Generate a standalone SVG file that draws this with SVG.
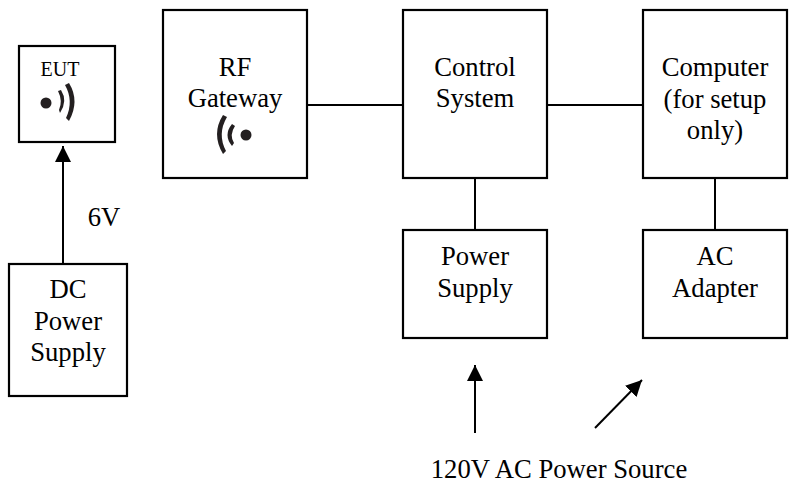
<svg xmlns="http://www.w3.org/2000/svg" width="801" height="484" viewBox="0 0 801 484">
<defs>
<marker id="ah" markerUnits="userSpaceOnUse" markerWidth="16" markerHeight="16" refX="16" refY="8" orient="auto"><path d="M0,0 L16,8 L0,16 Z" fill="#000"/></marker>
</defs>
<style>
text{font-family:"Liberation Serif","Times New Roman",serif;font-size:26.67px;fill:#000;text-anchor:middle}
.box{fill:#fff;stroke:#000;stroke-width:2.2}
.line{stroke:#000;stroke-width:2;fill:none}
.wave{fill:#231f20;stroke:none}
</style>
<rect width="801" height="484" fill="#fff"/>
<g id="connectors">
<path class="line" d="M63,264V146" marker-end="url(#ah)"/>
<path class="line" d="M307,105H403"/>
<path class="line" d="M547,105H643"/>
<path class="line" d="M475,179V230"/>
<path class="line" d="M715,179V230"/>
<path class="line" d="M475,433V365" marker-end="url(#ah)"/>
<path class="line" d="M595,428L642,380" marker-end="url(#ah)"/>
</g>
<g id="eut"><rect class="box" x="19" y="46" width="96" height="96"/>
<text x="60" y="76" style="font-size:20px">EUT</text>
<circle cx="46" cy="103" r="5.5" fill="#231f20"/>
<path class="wave" d="M61,90Q68,101 60,113L59,110Q63,101 58,91Z"/>
<path class="wave" d="M69,83Q80,101 69,121L66,118Q74,101 65,85Z"/></g>
<g id="rf-gateway"><rect class="box" x="163" y="10" width="144" height="168"/>
<text x="235" y="76">RF</text><text x="235" y="107">Gateway</text>
<circle cx="246" cy="135" r="5.5" fill="#231f20"/>
<path class="wave" d="M232,124Q223,135 232,146L234,143Q229,135 235,126Z"/>
<path class="wave" d="M223,115Q211,134 223,154L226,151Q217,134 227,117Z"/></g>
<g id="control-system"><rect class="box" x="403" y="10" width="144" height="168"/>
<text x="475" y="76">Control</text><text x="475" y="107">System</text></g>
<g id="computer"><rect class="box" x="643" y="10" width="144" height="168"/>
<text x="715" y="76">Computer</text><text x="715" y="108">(for setup</text><text x="715" y="139">only)</text></g>
<g id="power-supply"><rect class="box" x="403" y="230" width="144" height="108"/>
<text x="475" y="265">Power</text><text x="475" y="297">Supply</text></g>
<g id="ac-adapter"><rect class="box" x="643" y="230" width="144" height="108"/>
<text x="715" y="265">AC</text><text x="715" y="297">Adapter</text></g>
<g id="dc-power-supply"><rect class="box" x="9" y="264" width="118" height="132"/>
<text x="68" y="298">DC</text><text x="68" y="330">Power</text><text x="68" y="361">Supply</text></g>
<text x="104" y="226">6V</text>
<text x="559" y="478">120V AC Power Source</text>
</svg>
